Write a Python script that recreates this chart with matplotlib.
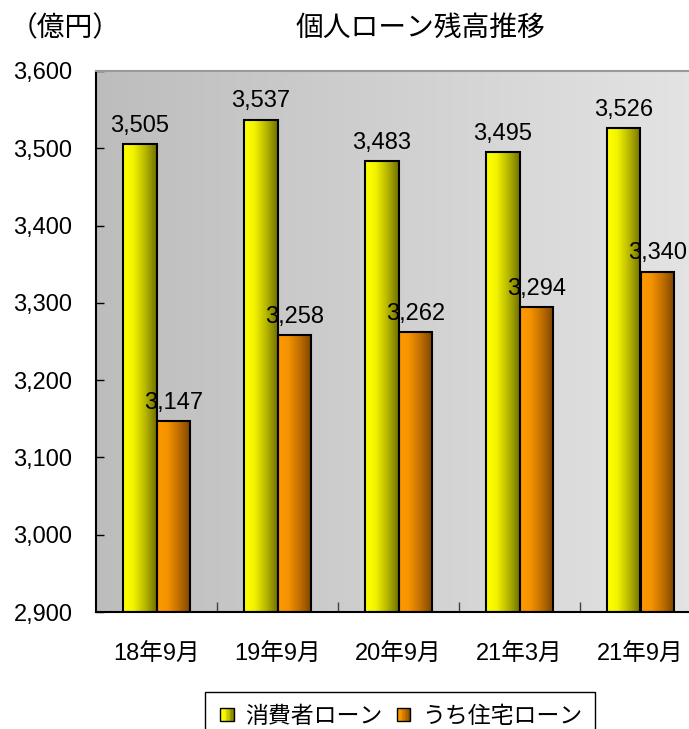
import numpy as np
import matplotlib
matplotlib.use("Agg")
import matplotlib.pyplot as plt
from matplotlib.colors import LinearSegmentedColormap
from matplotlib.patches import Rectangle
from matplotlib.legend_handler import HandlerBase
from matplotlib.ticker import FixedLocator

plt.rcParams['font.family'] = ['Liberation Sans', 'Noto Sans CJK JP', 'DejaVu Sans']

categories = ['18年9月', '19年9月', '20年9月', '21年3月', '21年9月']
consumer = [3505, 3537, 3483, 3495, 3526]
housing = [3147, 3258, 3262, 3294, 3340]
series_names = ['消費者ローン', 'うち住宅ローン']
yticks = [2900, 3000, 3100, 3200, 3300, 3400, 3500, 3600]

cmap_yellow = LinearSegmentedColormap.from_list(
    'yel', [(0, '#ffff00'), (0.3, '#f4f400'), (0.65, '#b8b800'), (1, '#707000')])
cmap_orange = LinearSegmentedColormap.from_list(
    'ora', [(0, '#ff9900'), (0.3, '#f59300'), (0.65, '#c06e00'), (1, '#784400')])
cmap_bg = LinearSegmentedColormap.from_list('bg', ['#bdbdbd', '#e4e4e4'])

fig = plt.figure(figsize=(6.89, 7.29), dpi=100)
ax = fig.add_axes([96 / 689, 117 / 729, 605 / 689, 541 / 729])

grad = np.linspace(0, 1, 256).reshape(1, -1)
ax.imshow(grad, cmap=cmap_bg, extent=[0, 1, 0, 1], transform=ax.transAxes,
          aspect='auto', zorder=0)

ymin = yticks[0]
w = 0.28
x = np.arange(len(categories))
for vals, cmap, off in [(consumer, cmap_yellow, -w / 2), (housing, cmap_orange, w / 2)]:
    for xi, v in zip(x, vals):
        ax.imshow(grad, cmap=cmap, extent=[xi + off - w / 2, xi + off + w / 2, ymin, v],
                  aspect='auto', zorder=2, interpolation='bilinear')
    ax.bar(x + off, np.array(vals) - ymin, bottom=ymin, width=w, facecolor='none',
           edgecolor='black', linewidth=1.5, zorder=3)
    for xi, v in zip(x, vals):
        ax.annotate(f'{v:,}', (xi + off, v), xytext=(0, 9), textcoords='offset points',
                    ha='center', va='baseline', fontsize=17, zorder=4)

ax.set_xlim(-0.5, len(categories) - 0.5)
ax.set_ylim(yticks[0], yticks[-1])
ax.set_yticks(yticks)
ax.set_yticklabels([f'{t:,}' for t in yticks])
ax.set_xticks(x)
ax.set_xticklabels(categories)
ax.xaxis.set_minor_locator(FixedLocator(x[:-1] + 0.5))

ax.tick_params(axis='y', direction='in', length=6, width=1, pad=17, labelsize=17)
ax.tick_params(axis='x', which='major', length=0, pad=23, labelsize=17)
ax.tick_params(axis='x', which='minor', direction='in', length=7, width=1, color='#404040')

for side in ['left', 'bottom']:
    ax.spines[side].set_color('black')
    ax.spines[side].set_linewidth(1.5)
for side in ['top', 'right']:
    ax.spines[side].set_color('#9a9a9a')
    ax.spines[side].set_linewidth(1.5)

fig.text(10 / 689, 1 - 29 / 729, '（億円）', fontsize=20, ha='left', va='center')
fig.text(420 / 689, 1 - 29 / 729, '個人ローン残高推移', fontsize=20, ha='center', va='center')


class GradientSquare(HandlerBase):
    def __init__(self, cmap):
        super().__init__()
        self.cmap = cmap

    def create_artists(self, legend, orig_handle, xdescent, ydescent,
                       width, height, fontsize, trans):
        size = height * 0.85
        x0 = -xdescent + (width - size) / 2
        y0 = -ydescent + (height - size) / 2
        n = 10
        arts = [Rectangle((x0 + k * size / n, y0), size / n, size,
                          facecolor=self.cmap((k + 0.5) / n), edgecolor='none',
                          transform=trans) for k in range(n)]
        arts.append(Rectangle((x0, y0), size, size, facecolor='none',
                              edgecolor='black', linewidth=1, transform=trans))
        return arts


h1 = Rectangle((0, 0), 1, 1)
h2 = Rectangle((0, 0), 1, 1)
# legend box runs off the bottom edge of the figure
leg = fig.legend([h1, h2], series_names,
                 handler_map={h1: GradientSquare(cmap_yellow), h2: GradientSquare(cmap_orange)},
                 loc='upper center', bbox_to_anchor=(400 / 689, 1 - 692 / 729),
                 bbox_transform=fig.transFigure, ncol=2, fontsize=16.5, frameon=True,
                 fancybox=False, edgecolor='black', framealpha=1, borderaxespad=0,
                 handlelength=0.8, handletextpad=0.4, columnspacing=0.5, borderpad=0.55)
leg.get_frame().set_linewidth(1)

fig.savefig('out.png', dpi=100)
